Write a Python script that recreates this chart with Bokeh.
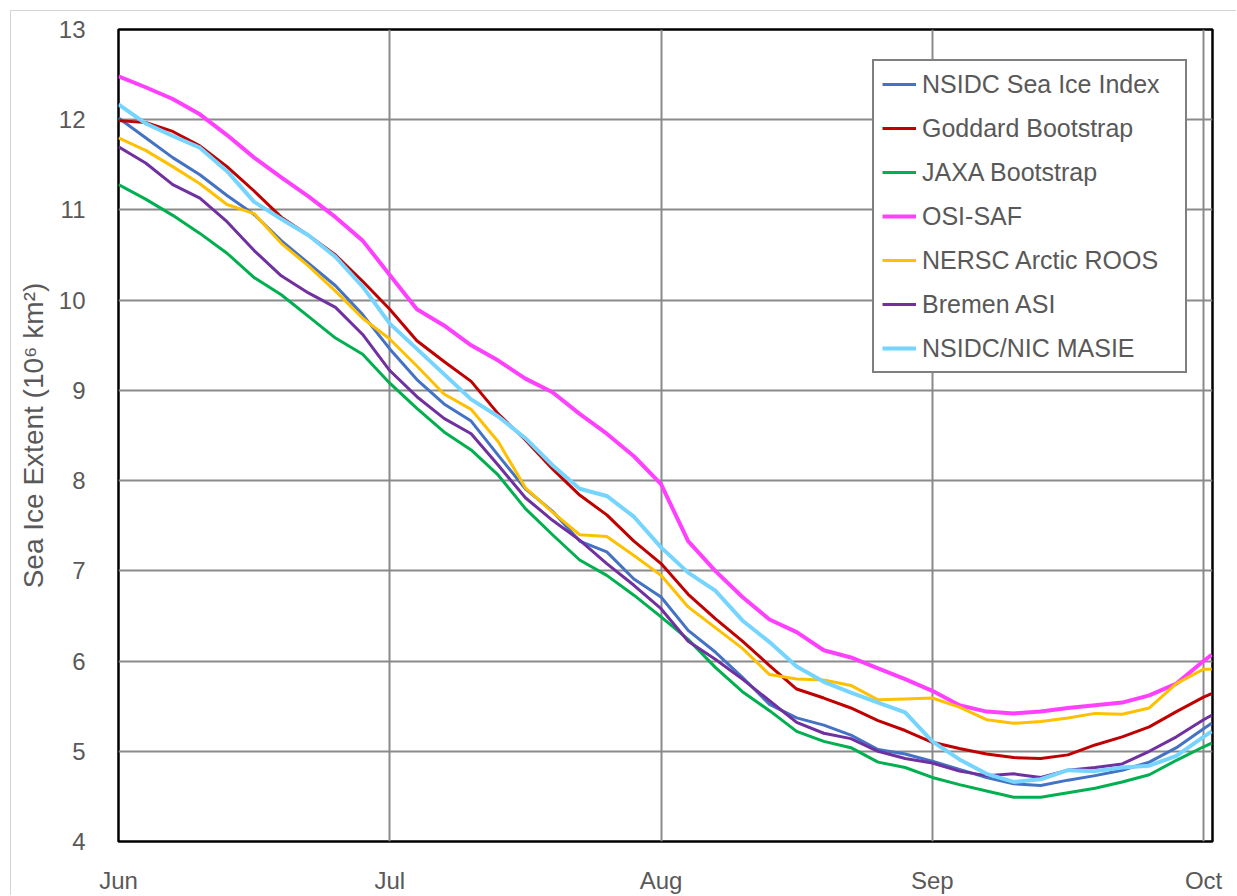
from bokeh.plotting import figure
from bokeh.models import FixedTicker, Legend, LegendItem, Range1d
from bokeh.embed import file_html
from bokeh.resources import INLINE

# x positions in months since 1 June (0 = Jun 1, 1 = Jul 1, ... 4 = Oct 1)
x_months = [0.0, 0.1, 0.2, 0.3, 0.4, 0.5, 0.6, 0.7, 0.8, 0.9,
            1.0, 1.1, 1.2, 1.3, 1.4, 1.5, 1.6, 1.7, 1.8, 1.9,
            2.0, 2.1, 2.2, 2.3, 2.4, 2.5, 2.6, 2.7, 2.8, 2.9,
            3.0, 3.1, 3.2, 3.3, 3.4, 3.5, 3.6, 3.7, 3.8, 3.9,
            4.0, 4.03]

month_ticks = [0, 1, 2, 3, 4]
month_labels = ["Jun", "Jul", "Aug", "Sep", "Oct"]
y_ticks = [4, 5, 6, 7, 8, 9, 10, 11, 12, 13]

nsidc_sii = [12.02, 11.80, 11.58, 11.39, 11.16, 10.95, 10.66, 10.41, 10.16, 9.84,
             9.46, 9.12, 8.85, 8.66, 8.28, 7.91, 7.66, 7.33, 7.21, 6.91,
             6.71, 6.34, 6.10, 5.82, 5.52, 5.37, 5.29, 5.18, 5.02, 4.97,
             4.89, 4.80, 4.71, 4.64, 4.62, 4.68, 4.73, 4.79, 4.88, 5.04,
             5.25, 5.31]
goddard = [11.99, 11.97, 11.87, 11.71, 11.48, 11.21, 10.92, 10.72, 10.50, 10.21,
           9.90, 9.55, 9.32, 9.10, 8.74, 8.45, 8.13, 7.84, 7.62, 7.33,
           7.08, 6.74, 6.47, 6.22, 5.95, 5.69, 5.59, 5.48, 5.34, 5.23,
           5.10, 5.03, 4.97, 4.93, 4.92, 4.96, 5.07, 5.16, 5.27, 5.44,
           5.60, 5.64]
jaxa = [11.28, 11.12, 10.94, 10.74, 10.52, 10.25, 10.06, 9.82, 9.58, 9.40,
        9.08, 8.80, 8.54, 8.34, 8.06, 7.69, 7.40, 7.12, 6.95, 6.73,
        6.49, 6.24, 5.93, 5.66, 5.45, 5.22, 5.11, 5.04, 4.88, 4.82,
        4.71, 4.63, 4.56, 4.49, 4.49, 4.54, 4.59, 4.66, 4.74, 4.90,
        5.05, 5.09]
osi_saf = [12.48, 12.36, 12.23, 12.06, 11.83, 11.58, 11.36, 11.15, 10.92, 10.66,
           10.28, 9.90, 9.72, 9.50, 9.33, 9.13, 8.98, 8.74, 8.52, 8.27,
           7.96, 7.33, 7.00, 6.71, 6.46, 6.32, 6.12, 6.04, 5.92, 5.80,
           5.67, 5.51, 5.44, 5.42, 5.44, 5.48, 5.51, 5.54, 5.62, 5.75,
           6.00, 6.07]
nersc = [11.80, 11.66, 11.48, 11.29, 11.06, 10.96, 10.63, 10.38, 10.10, 9.80,
         9.57, 9.27, 8.96, 8.79, 8.43, 7.92, 7.65, 7.40, 7.38, 7.17,
         6.95, 6.60, 6.37, 6.14, 5.85, 5.80, 5.79, 5.73, 5.57, 5.58,
         5.59, 5.49, 5.35, 5.31, 5.33, 5.37, 5.42, 5.41, 5.48, 5.75,
         5.91, 5.91]
bremen = [11.70, 11.52, 11.28, 11.13, 10.87, 10.55, 10.27, 10.08, 9.92, 9.62,
          9.22, 8.93, 8.69, 8.52, 8.17, 7.81, 7.56, 7.34, 7.08, 6.84,
          6.58, 6.22, 6.02, 5.80, 5.56, 5.32, 5.20, 5.14, 5.00, 4.92,
          4.87, 4.78, 4.73, 4.75, 4.71, 4.79, 4.82, 4.86, 5.00, 5.16,
          5.35, 5.40]
masie = [12.17, 11.96, 11.82, 11.69, 11.43, 11.09, 10.90, 10.72, 10.48, 10.15,
         9.74, 9.46, 9.18, 8.90, 8.71, 8.47, 8.17, 7.91, 7.83, 7.60,
         7.26, 6.98, 6.78, 6.45, 6.21, 5.94, 5.77, 5.65, 5.54, 5.43,
         5.11, 4.91, 4.75, 4.66, 4.69, 4.79, 4.78, 4.82, 4.84, 4.95,
         5.16, 5.22]

series_names = ["NSIDC Sea Ice Index", "Goddard Bootstrap", "JAXA Bootstrap",
                "OSI-SAF", "NERSC Arctic ROOS", "Bremen ASI", "NSIDC/NIC MASIE"]
series_values = [nsidc_sii, goddard, jaxa, osi_saf, nersc, bremen, masie]
series_colors = ["#4472C4", "#C00000", "#00B050", "#FF40FF", "#FFC000", "#7030A0", "#75D5FF"]
series_widths = [3, 3, 3, 4, 3, 3, 4]

FONT = "Liberation Sans"
TXT = "#595959"

p = figure(width=1226, height=885, output_backend="svg", toolbar_location=None,
           x_range=Range1d(0, 4.033), y_range=Range1d(4, 13),
           min_border_left=107, min_border_top=18, min_border_right=25, min_border_bottom=55)
p.background_fill_color = "white"
p.border_fill_color = "white"
p.outline_line_color = "black"
p.outline_line_width = 2.5
p.styles = {"margin-left": "10px", "margin-top": "10px",
            "border-left": "1px solid #d4d4d4", "border-top": "1px solid #d4d4d4"}

p.xaxis.ticker = FixedTicker(ticks=month_ticks)
p.xaxis.major_label_overrides = {t: l for t, l in zip(month_ticks, month_labels)}
p.yaxis.ticker = FixedTicker(ticks=y_ticks)

for ax in (p.xaxis[0], p.yaxis[0]):
    ax.axis_line_color = None
    ax.major_tick_line_color = None
    ax.minor_tick_line_color = None
    ax.major_label_text_font = FONT
    ax.major_label_text_font_size = "24px"
    ax.major_label_text_color = TXT

p.xaxis.major_label_standoff = 19
p.yaxis.major_label_standoff = 27
p.yaxis.axis_label = "Sea Ice Extent (10\u2076 km\u00b2)"
p.yaxis.axis_label_text_font = FONT
p.yaxis.axis_label_text_font_size = "28px"
p.yaxis.axis_label_text_font_style = "normal"
p.yaxis.axis_label_text_color = TXT
p.yaxis.axis_label_standoff = 7

p.xgrid.ticker = FixedTicker(ticks=month_ticks)
p.ygrid.ticker = FixedTicker(ticks=y_ticks)
for g in (p.xgrid[0], p.ygrid[0]):
    g.grid_line_color = "#8a8a8a"
    g.grid_line_width = 2

items = []
for name, vals, col, w in zip(series_names, series_values, series_colors, series_widths):
    r = p.line(x_months, vals, line_color=col, line_width=w)
    items.append(LegendItem(label=name, renderers=[r]))

legend = Legend(items=items, location=(754, 468))
legend.label_text_font = FONT
legend.label_text_font_size = "25px"
legend.label_text_color = TXT
legend.border_line_color = "black"
legend.border_line_width = 2
legend.background_fill_color = "white"
legend.background_fill_alpha = 1.0
legend.glyph_width = 34
legend.glyph_height = 30
legend.label_height = 30
legend.label_width = 255
legend.label_standoff = 6
legend.spacing = 14
legend.padding = 8
legend.margin = 0
p.add_layout(legend)

open("out.html", "w").write(file_html(p, INLINE))
